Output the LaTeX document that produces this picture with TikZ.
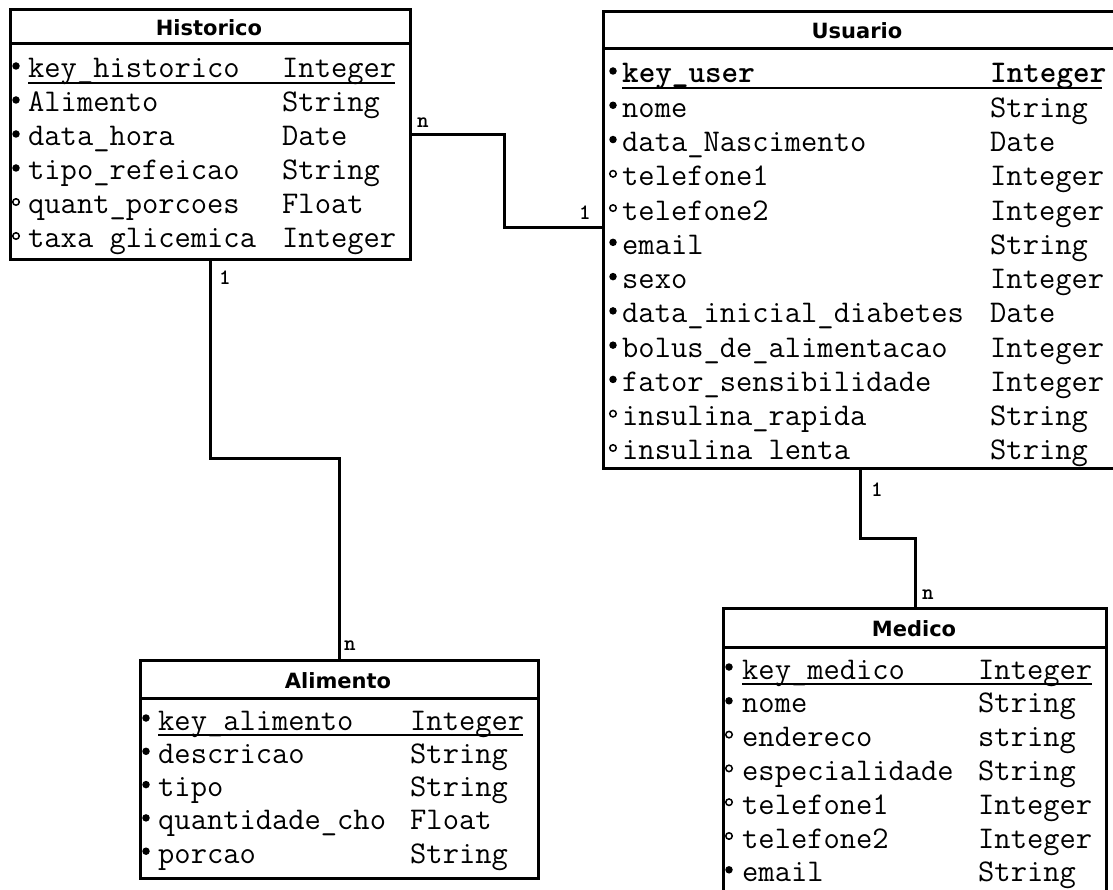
\documentclass[tikz,border=0pt]{standalone}
\usepackage{fontspec}
\newfontfamily\titlefont{DejaVu Sans}
\usetikzlibrary{calc}
\begin{document}
\begin{tikzpicture}[x=1pt,y=-1pt,
  tablebox/.style={draw, line width=3pt, inner sep=0pt, anchor=north west},
  sepline/.style={line width=3pt},
  conn/.style={line width=3pt},
  title/.style={font=\titlefont\bfseries\fontsize{21}{21}\selectfont, inner sep=0pt},
  fld/.style={font=\ttfamily\fontsize{31.6}{34}\selectfont, inner sep=0pt, anchor=base west},
  dotf/.style={circle, fill=black, inner sep=0pt, minimum size=7.5pt},
  doto/.style={circle, draw=black, line width=1.5pt, inner sep=0pt, minimum size=6.5pt},
  keyline/.style={line width=1.2pt},
  lbl/.style={font=\ttfamily\bfseries\fontsize{22}{22}\selectfont, inner sep=0pt}]
\clip (0,0) rectangle (1113,890);
\fill[white] (0,0) rectangle (1113,890);

% ---------- Historico ----------
\node[tablebox, minimum width=400pt, minimum height=250pt] (hist) at (9,8) {};
\draw[sepline] (hist.north west |- 0,44) -- (hist.north east |- 0,44);
\node[title] (hist-title) at (209,28) {Historico};
\foreach [count=\i] \nm/\tp/\bb in {key\_historico/Integer/dotf, Alimento/String/dotf, data\_hora/Date/dotf, tipo\_refeicao/String/dotf, quant\_porcoes/Float/doto, taxa glicemica/Integer/doto}{
  \pgfmathsetmacro\yy{78+34*(\i-1)}
  \node[fld] (h-n\i) at (28,\yy) {\nm};
  \node[fld] (h-t\i) at (282,\yy) {\tp};
  \node[\bb] (h-b\i) at (16,\yy-12) {};
}
\draw[keyline] (28,83) -- (395,83);

% ---------- Usuario ----------
\node[tablebox, minimum width=513pt, minimum height=457pt] (usr) at (602,10) {};
\draw[sepline] (usr.north west |- 0,49) -- (usr.north east |- 0,49);
\node[title] (usr-title) at (857,31) {Usuario};
\node[fld, font=\ttfamily\bfseries\fontsize{31.6}{34}\selectfont] (u-n1) at (622,83) {key\_user};
\node[fld, font=\ttfamily\bfseries\fontsize{31.6}{34}\selectfont] (u-t1) at (990,83) {Integer};
\node[dotf] (u-b1) at (613,71) {};
\foreach [count=\i from 2] \nm/\tp/\bb in {nome/String/dotf, data\_Nascimento/Date/dotf, telefone1/Integer/doto, telefone2/Integer/doto, email/String/dotf, sexo/Integer/dotf, data\_inicial\_diabetes/Date/dotf, bolus\_de\_alimentacao/Integer/dotf, fator\_sensibilidade/Integer/dotf, insulina\_rapida/String/doto, insulina lenta/String/doto}{
  \pgfmathsetmacro\yy{83+34.27*(\i-1)}
  \node[fld] (u-n\i) at (622,\yy) {\nm};
  \node[fld] (u-t\i) at (990,\yy) {\tp};
  \node[\bb] (u-b\i) at (613,\yy-12) {};
}
\draw[keyline] (622,88) -- (1102,88);

% ---------- Alimento ----------
\node[tablebox, minimum width=398pt, minimum height=218pt] (alim) at (139,659) {};
\draw[sepline] (alim.north west |- 0,698) -- (alim.north east |- 0,698);
\node[title] (alim-title) at (338,681) {Alimento};
\foreach [count=\i] \nm/\tp/\bb in {key\_alimento/Integer/dotf, descricao/String/dotf, tipo/String/dotf, quantidade\_cho/Float/dotf, porcao/String/dotf}{
  \pgfmathsetmacro\yy{730+33.3*(\i-1)}
  \node[fld] (a-n\i) at (158,\yy) {\nm};
  \node[fld] (a-t\i) at (410,\yy) {\tp};
  \node[\bb] (a-b\i) at (146,\yy-12) {};
}
\draw[keyline] (158,735) -- (523,735);

% ---------- Medico ----------
\node[tablebox, minimum width=383pt, minimum height=300pt] (med) at (722,607) {};
\draw[sepline] (med.north west |- 0,647) -- (med.north east |- 0,647);
\node[title] (med-title) at (914,629) {Medico};
\foreach [count=\i] \nm/\tp/\bb in {key\_medico/Integer/dotf, nome/String/dotf, endereco/string/doto, especialidade/String/doto, telefone1/Integer/doto, telefone2/Integer/doto, email/String/dotf}{
  \pgfmathsetmacro\yy{679+33.8*(\i-1)}
  \node[fld] (m-n\i) at (742,\yy) {\nm};
  \node[fld] (m-t\i) at (978,\yy) {\tp};
  \node[\bb] (m-b\i) at (729,\yy-12) {};
}
\draw[keyline] (742,684) -- (1092,684);

% ---------- Connectors ----------
\coordinate (hu1) at ($(hist.north east)+(0,127)$);
\coordinate (hu2) at ($(usr.north west)+(0,218)$);
\draw[conn] (hu1) -- (504,135) |- (hu2);
\draw[conn] (hist.south) |- (337,458) -| (alim.north);
\coordinate (um1) at ($(usr.south west)+(258,0)$);
\draw[conn] (um1) |- (913,538) -| (med.north);

% ---------- Multiplicities ----------
\node[lbl] (l-hn) at (423,123) {n};
\node[lbl] (l-u1) at (585,213) {1};
\node[lbl] (l-h1) at (225,278) {1};
\node[lbl] (l-an) at (350,646) {n};
\node[lbl] (l-uu) at (877,490) {1};
\node[lbl] (l-mn) at (928,595) {n};
\end{tikzpicture}
\end{document}
